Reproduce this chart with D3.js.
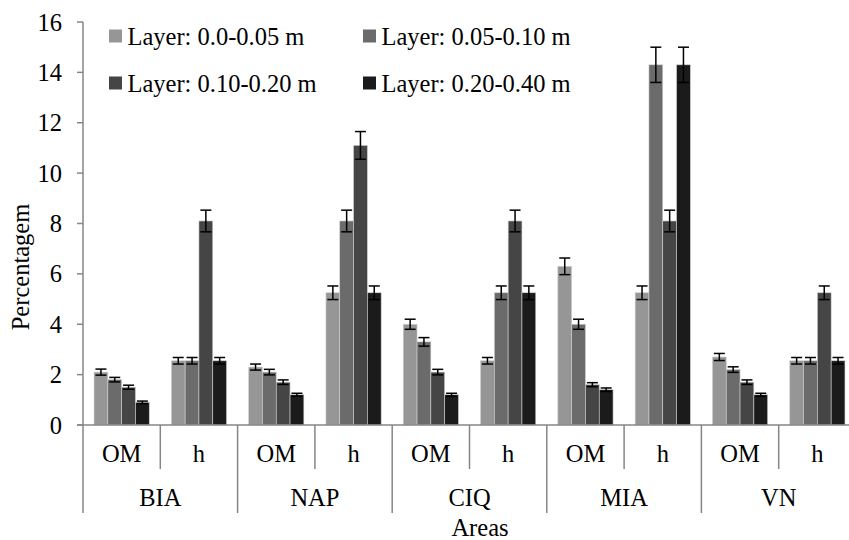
<!DOCTYPE html>
<html>
<head>
<meta charset="utf-8">
<script src="https://cdn.jsdelivr.net/npm/d3@7"></script>
<style>
  body { margin: 0; background: #fff; }
  svg { display: block; font-family: "Liberation Serif", "Times New Roman", serif; }
</style>
</head>
<body>
<svg width="849" height="540"></svg>
<script>
const areas = ["BIA", "NAP", "CIQ", "MIA", "VN"];
const params = ["OM", "h"];
const layers = ["Layer: 0.0-0.05 m", "Layer: 0.05-0.10 m", "Layer: 0.10-0.20 m", "Layer: 0.20-0.40 m"];
const colors = ["#969696", "#6b6b6b", "#454545", "#1b1b1b"];

// values per layer, in order BIA OM, BIA h, NAP OM, NAP h, ...
const layer1 = [2.1, 2.55, 2.3, 5.25, 4.0, 2.55, 6.3, 5.25, 2.7, 2.55];
const layer2 = [1.8, 2.55, 2.1, 8.1, 3.3, 5.25, 4.0, 14.3, 2.2, 2.55];
const layer3 = [1.5, 8.1, 1.7, 11.1, 2.1, 8.1, 1.6, 8.1, 1.7, 5.25];
const layer4 = [0.9, 2.55, 1.2, 5.25, 1.2, 5.25, 1.4, 14.3, 1.2, 2.55];

const err1 = [0.12, 0.13, 0.12, 0.27, 0.2, 0.13, 0.33, 0.27, 0.14, 0.13];
const err2 = [0.09, 0.13, 0.11, 0.43, 0.17, 0.27, 0.2, 0.7, 0.11, 0.13];
const err3 = [0.08, 0.43, 0.09, 0.55, 0.11, 0.43, 0.08, 0.43, 0.09, 0.27];
const err4 = [0.05, 0.13, 0.06, 0.27, 0.06, 0.27, 0.07, 0.7, 0.06, 0.13];

const yTicks = [0, 2, 4, 6, 8, 10, 12, 14, 16];

const values = [layer1, layer2, layer3, layer4];
const errors = [err1, err2, err3, err4];

const svg = d3.select("svg");
const axisColor = "#868686";
const fontSize = 24.5;

// sub-categories: area + param
const subs = [];
areas.forEach(a => params.forEach(p => subs.push({ area: a, param: p, key: a + "-" + p })));

const plotLeft = 83, plotRight = 856, plotTop = 22, plotBottom = 425;

const x0 = d3.scaleBand().domain(subs.map(d => d.key)).range([plotLeft, plotRight]);
const x1 = d3.scaleBand().domain(d3.range(layers.length)).range([0, x0.bandwidth()]).paddingOuter(0.8);
const y = d3.scaleLinear().domain([0, 16]).range([plotBottom, plotTop]);

// y axis
svg.append("line")
  .attr("x1", plotLeft).attr("x2", plotLeft).attr("y1", plotTop).attr("y2", plotBottom)
  .attr("stroke", axisColor).attr("stroke-width", 1.5);

svg.selectAll(".ytick")
  .data(yTicks)
  .join("line")
  .attr("x1", plotLeft - 6).attr("x2", plotLeft)
  .attr("y1", d => y(d)).attr("y2", d => y(d))
  .attr("stroke", axisColor).attr("stroke-width", 1.5);

svg.selectAll(".ylab")
  .data(yTicks)
  .join("text")
  .attr("x", 62)
  .attr("y", d => y(d))
  .attr("dy", "0.35em")
  .attr("text-anchor", "end")
  .style("font-size", fontSize + "px")
  .text(d => d);

// bars
const barData = [];
subs.forEach((s, i) => {
  values.forEach((v, li) => {
    barData.push({ key: s.key, layer: li, value: v[i], err: errors[li][i] });
  });
});

svg.selectAll(".bar")
  .data(barData)
  .join("rect")
  .attr("x", d => x0(d.key) + x1(d.layer))
  .attr("y", d => y(d.value))
  .attr("width", x1.bandwidth())
  .attr("height", d => y(0) - y(d.value))
  .attr("fill", d => colors[d.layer])
  .attr("stroke", "#d0d0d0")
  .attr("stroke-width", 0.6);

// error bars
const eb = svg.selectAll(".err")
  .data(barData)
  .join("g")
  .attr("transform", d => `translate(${x0(d.key) + x1(d.layer) + x1.bandwidth() / 2},0)`);

eb.append("line")
  .attr("y1", d => y(d.value + d.err)).attr("y2", d => y(d.value - d.err))
  .attr("stroke", "#000").attr("stroke-width", 1.5);
eb.append("line")
  .attr("x1", -5.5).attr("x2", 5.5)
  .attr("y1", d => y(d.value + d.err)).attr("y2", d => y(d.value + d.err))
  .attr("stroke", "#000").attr("stroke-width", 1.5);
eb.append("line")
  .attr("x1", -5.5).attr("x2", 5.5)
  .attr("y1", d => y(d.value - d.err)).attr("y2", d => y(d.value - d.err))
  .attr("stroke", "#000").attr("stroke-width", 1.5);

// x axis
svg.append("line")
  .attr("x1", plotLeft - 6).attr("x2", 849).attr("y1", plotBottom).attr("y2", plotBottom)
  .attr("stroke", axisColor).attr("stroke-width", 1.5);

// sub-category dividers
svg.selectAll(".subdiv")
  .data(subs.filter(d => d.param !== params[0]))
  .join("line")
  .attr("x1", d => x0(d.key)).attr("x2", d => x0(d.key))
  .attr("y1", plotBottom).attr("y2", 469)
  .attr("stroke", axisColor).attr("stroke-width", 1.5);

// group dividers
svg.selectAll(".grpdiv")
  .data(subs.filter(d => d.param === params[0]))
  .join("line")
  .attr("x1", d => x0(d.key)).attr("x2", d => x0(d.key))
  .attr("y1", plotBottom).attr("y2", 513)
  .attr("stroke", axisColor).attr("stroke-width", 1.5);

svg.selectAll(".sublab")
  .data(subs)
  .join("text")
  .attr("x", d => x0(d.key) + x0.bandwidth() / 2)
  .attr("y", 462)
  .attr("text-anchor", "middle")
  .style("font-size", fontSize + "px")
  .text(d => d.param);

svg.selectAll(".grplab")
  .data(areas)
  .join("text")
  .attr("x", d => x0(d + "-" + params[0]) + x0.bandwidth())
  .attr("y", 506)
  .attr("text-anchor", "middle")
  .style("font-size", fontSize + "px")
  .text(d => d);

// axis titles
svg.append("text")
  .attr("x", 480).attr("y", 536)
  .attr("text-anchor", "middle")
  .style("font-size", fontSize + "px")
  .text("Areas");

svg.append("text")
  .attr("transform", "translate(29,267) rotate(-90)")
  .attr("text-anchor", "middle")
  .style("font-size", fontSize + "px")
  .text("Percentagem");

// legend
const legPos = [[109, 36], [363, 36], [109, 83], [363, 83]];
const leg = svg.selectAll(".leg")
  .data(layers)
  .join("g")
  .attr("transform", (d, i) => `translate(${legPos[i][0]},${legPos[i][1]})`);

leg.append("rect")
  .attr("x", 0).attr("y", -6.5)
  .attr("width", 13).attr("height", 13)
  .attr("fill", (d, i) => colors[i]);

leg.append("text")
  .attr("x", 18.5)
  .attr("dy", "0.35em")
  .style("font-size", fontSize + "px")
  .text(d => d);
</script>
</body>
</html>
